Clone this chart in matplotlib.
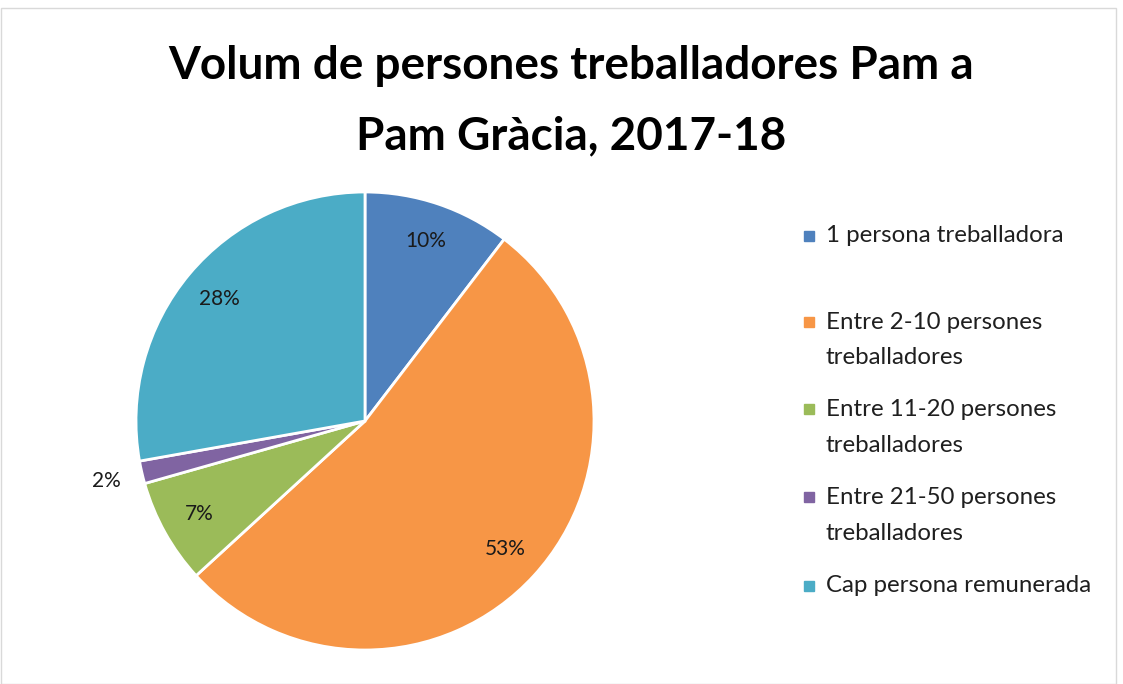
import numpy as np
import matplotlib
matplotlib.use("Agg")
import matplotlib.pyplot as plt
from matplotlib.patches import Rectangle

plt.rcParams['font.family'] = ['Lato', 'DejaVu Sans']

title = "Volum de persones treballadores Pam a\nPam Gràcia, 2017-18"
categories = [
    "1 persona treballadora",
    "Entre 2-10 persones\ntreballadores",
    "Entre 11-20 persones\ntreballadores",
    "Entre 21-50 persones\ntreballadores",
    "Cap persona remunerada",
]
shares = [10.4, 52.8, 7.4, 1.6, 27.8]
colors = ["#4F81BD", "#F79646", "#9BBB59", "#8064A2", "#4BACC6"]

W, H = 1123, 684
fig = plt.figure(figsize=(W / 100, H / 100), dpi=100)

# light frame around the chart
fig.patches.append(Rectangle((0.5 / W, 0.5 / H), (W - 8) / W, (H - 8) / H,
                             transform=fig.transFigure, fill=False,
                             edgecolor="#d9d9d9", linewidth=1))

fig.text(571 / W, 1 - 101 / H, title, ha="center", va="center",
         fontsize=33, fontweight="bold", linespacing=1.85, color="black")

cx, cy, r = 365, 421, 229
ax = fig.add_axes([(cx - r) / W, (H - cy - r) / H, 2 * r / W, 2 * r / H])
wedges, texts, autotexts = ax.pie(
    shares, colors=colors, startangle=90, counterclock=False, radius=1,
    autopct=lambda p: "{:.0f}%".format(p), pctdistance=0.83,
    wedgeprops=dict(edgecolor="white", linewidth=2),
    textprops=dict(fontsize=15, color="#1a1a1a"))
ax.set_xlim(-1, 1)
ax.set_ylim(-1, 1)

# the small slice gets its label outside
w = wedges[3]
ang = np.deg2rad((w.theta1 + w.theta2) / 2)
autotexts[3].set_position((1.16 * np.cos(ang), 1.16 * np.sin(ang)))

# legend drawn by hand, one text per line
leg_y = [236, 322, 409, 497, 586]
line_gap = 36
for lab, col, y in zip(categories, colors, leg_y):
    fig.patches.append(Rectangle((804 / W, 1 - (y + 5) / H), 10 / W, 10 / H,
                                 transform=fig.transFigure, color=col))
    for i, part in enumerate(lab.split("\n")):
        fig.text(826 / W, 1 - (y + i * line_gap) / H, part, ha="left",
                 va="center", fontsize=17.3, color="#1f1f1f")

fig.savefig("out.png", dpi=100)
